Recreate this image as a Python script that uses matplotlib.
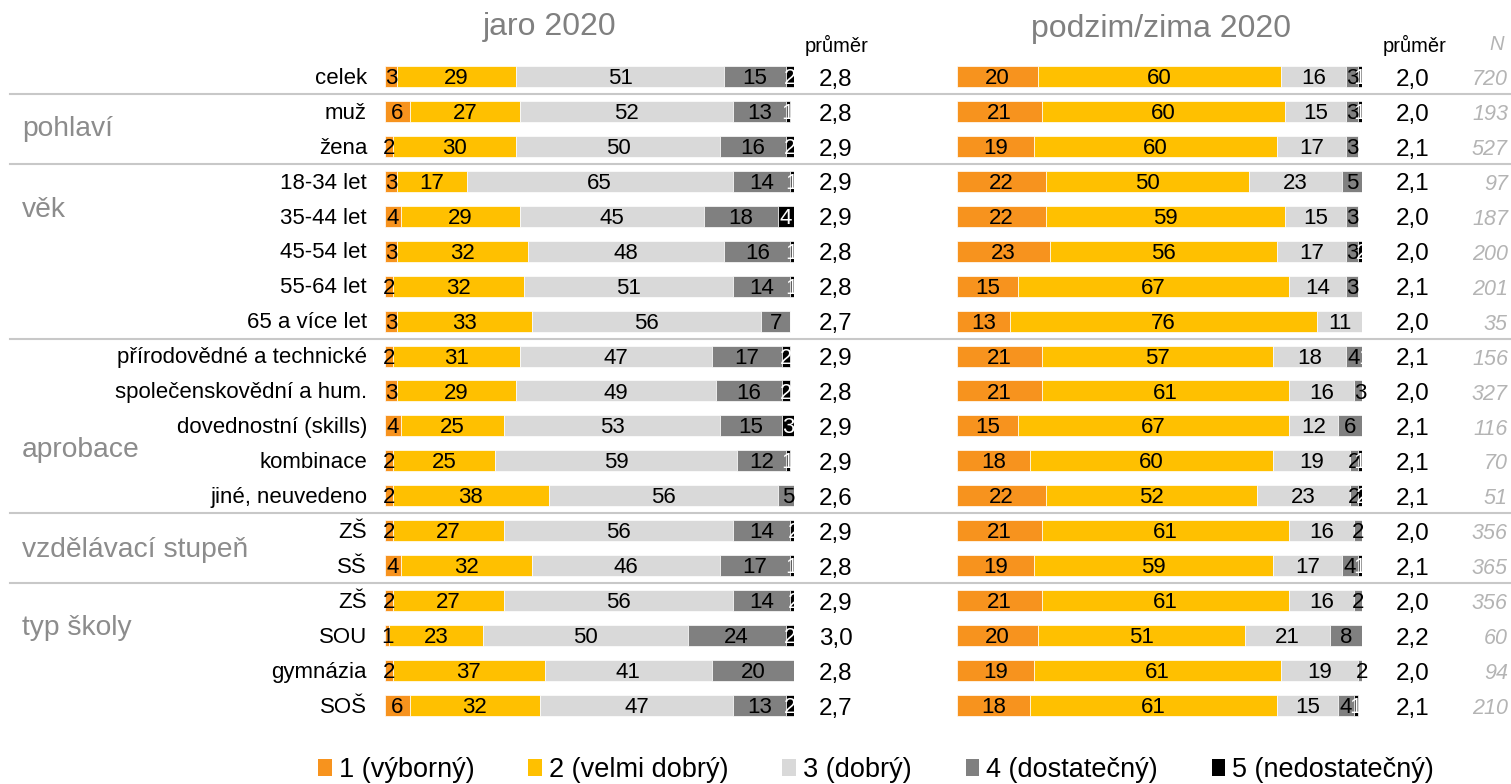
import matplotlib
matplotlib.use("Agg")
import matplotlib.pyplot as plt
from matplotlib.patches import Patch
import numpy as np

plt.rcParams['font.family'] = ['Liberation Sans', 'DejaVu Sans']

categories = ["celek", "muž", "žena", "18-34 let", "35-44 let", "45-54 let", "55-64 let",
              "65 a více let", "přírodovědné a technické", "společenskovědní a hum.",
              "dovednostní (skills)", "kombinace", "jiné, neuvedeno", "ZŠ", "SŠ",
              "ZŠ", "SOU", "gymnázia", "SOŠ"]

groups = ["pohlaví", "věk", "aprobace", "vzdělávací stupeň", "typ školy"]

grades = ["1 (výborný)", "2 (velmi dobrý)", "3 (dobrý)", "4 (dostatečný)", "5 (nedostatečný)"]

spring_g1 = [3, 6, 2, 3, 4, 3, 2, 3, 2, 3, 4, 2, 2, 2, 4, 2, 1, 2, 6]
spring_g2 = [29, 27, 30, 17, 29, 32, 32, 33, 31, 29, 25, 25, 38, 27, 32, 27, 23, 37, 32]
spring_g3 = [51, 52, 50, 65, 45, 48, 51, 56, 47, 49, 53, 59, 56, 56, 46, 56, 50, 41, 47]
spring_g4 = [15, 13, 16, 14, 18, 16, 14, 7, 17, 16, 15, 12, 5, 14, 17, 14, 24, 20, 13]
spring_g5 = [2, 1, 2, 1, 4, 1, 1, 0, 2, 2, 3, 1, 0, 2, 1, 2, 2, 0, 2]
spring_mean = ["2,8", "2,8", "2,9", "2,9", "2,9", "2,8", "2,8", "2,7", "2,9", "2,8",
               "2,9", "2,9", "2,6", "2,9", "2,8", "2,9", "3,0", "2,8", "2,7"]

autumn_g1 = [20, 21, 19, 22, 22, 23, 15, 13, 21, 21, 15, 18, 22, 21, 19, 21, 20, 19, 18]
autumn_g2 = [60, 60, 60, 50, 59, 56, 67, 76, 57, 61, 67, 60, 52, 61, 59, 61, 51, 61, 61]
autumn_g3 = [16, 15, 17, 23, 15, 17, 14, 11, 18, 16, 12, 19, 23, 16, 17, 16, 21, 19, 15]
autumn_g4 = [3, 3, 3, 5, 3, 3, 3, 0, 4, 3, 6, 2, 2, 2, 4, 2, 8, 2, 4]
autumn_g5 = [1, 1, 0, 0, 0, 2, 0, 0, 1, 0, 0, 1, 2, 0, 1, 0, 0, 0, 1]
autumn_mean = ["2,0", "2,0", "2,1", "2,1", "2,0", "2,0", "2,1", "2,0", "2,1", "2,0",
               "2,1", "2,1", "2,1", "2,0", "2,1", "2,0", "2,2", "2,0", "2,1"]
autumn_n = [720, 193, 527, 97, 187, 200, 201, 35, 156, 327, 116, 70, 51, 356, 365,
            356, 60, 94, 210]

colors = ["#F7931E", "#FFC000", "#D9D9D9", "#808080", "#000000"]

W, H = 1511, 784
fig = plt.figure(figsize=(W / 100, H / 100), dpi=100)

n = len(categories)
row_px = 34.94
top_px = 76.5 - 0.5 * row_px
bot_px = 76.5 + (n - 0.5) * row_px


def make_ax(left_px, width_px):
    ax = fig.add_axes([left_px / W, 1 - bot_px / H, width_px / W, (bot_px - top_px) / H])
    ax.set_xlim(0, 100)
    ax.set_ylim(n - 0.5, -0.5)
    for s in ax.spines.values():
        s.set_visible(False)
    ax.tick_params(left=False, bottom=False, labelbottom=False)
    ax.set_yticks([])
    ax.patch.set_alpha(0)
    return ax


ax1 = make_ax(385, 409)
ax2 = make_ax(957, 405)

y = np.arange(n)
bar_h = 0.6
LBL = 16


def draw(ax, series):
    left = np.zeros(n)
    for vals, c in zip(series, colors):
        vals = np.array(vals, dtype=float)
        ax.barh(y, vals, left=left, height=bar_h, color=c, edgecolor='white', linewidth=0.5)
        for i, v in enumerate(vals):
            if v > 0:
                ax.text(left[i] + v / 2, y[i] + 0.06, f"{int(v)}", ha='center', va='center',
                        fontsize=LBL, color='white' if c == "#000000" else 'black')
        left += vals


draw(ax1, [spring_g1, spring_g2, spring_g3, spring_g4, spring_g5])
draw(ax2, [autumn_g1, autumn_g2, autumn_g3, autumn_g4, autumn_g5])

tr1 = ax1.get_yaxis_transform()
tr2 = ax2.get_yaxis_transform()

# category labels
for i, c in enumerate(categories):
    ax1.text(-18 / 409, y[i] + 0.05, c, transform=tr1,
             ha='right', va='center', fontsize=16)

# means and N
for i in range(n):
    ax1.text((836 - 385) / 409, y[i] + 0.09, spring_mean[i], transform=tr1,
             ha='center', va='center', fontsize=17.5)
    ax2.text((1413 - 957) / 405, y[i] + 0.09, autumn_mean[i], transform=tr2,
             ha='center', va='center', fontsize=17.5)
    ax2.text((1508 - 957) / 405, y[i] + 0.09, str(autumn_n[i]), transform=tr2,
             ha='right', va='center', fontsize=15.5, style='italic', color='#B4B4B4')

# headers
fig.text(550 / W, 1 - 27 / H, "jaro 2020", ha='center', va='center', fontsize=23, color='#808080')
fig.text(1161 / W, 1 - 29 / H, "podzim/zima 2020", ha='center', va='center', fontsize=23, color='#808080')
fig.text(837 / W, 1 - 45 / H, "průměr", ha='center', va='center', fontsize=14.5)
fig.text(1415 / W, 1 - 45 / H, "průměr", ha='center', va='center', fontsize=14.5)
fig.text(1497 / W, 1 - 45 / H, "N", ha='center', va='center', fontsize=14.5, style='italic', color='#B4B4B4')

# group labels
group_y = [1.49, 3.83, 10.68, 13.54, 15.77]
for g, gy in zip(groups, group_y):
    ax1.text((22 - 385) / 409, gy, g, transform=tr1, ha='left', va='center',
             fontsize=20.3, color='#8C8C8C')

# separators
for sy in [0.5, 2.5, 7.5, 12.5, 14.5]:
    ax1.plot([(10 - 385) / 409, (1511 - 385) / 409], [sy, sy], transform=tr1,
             color='#C8C8C8', lw=1.5, clip_on=False)

handles = [Patch(facecolor=c, edgecolor='none') for c in colors]
fig.legend(handles, grades, loc='center', bbox_to_anchor=(876 / W, 1 - 770 / H), ncol=5,
           frameon=False, fontsize=19.5, handlelength=0.5, handleheight=0.55,
           handletextpad=0.25, columnspacing=2.0, borderpad=0, borderaxespad=0)

fig.savefig("out.png", dpi=100)
